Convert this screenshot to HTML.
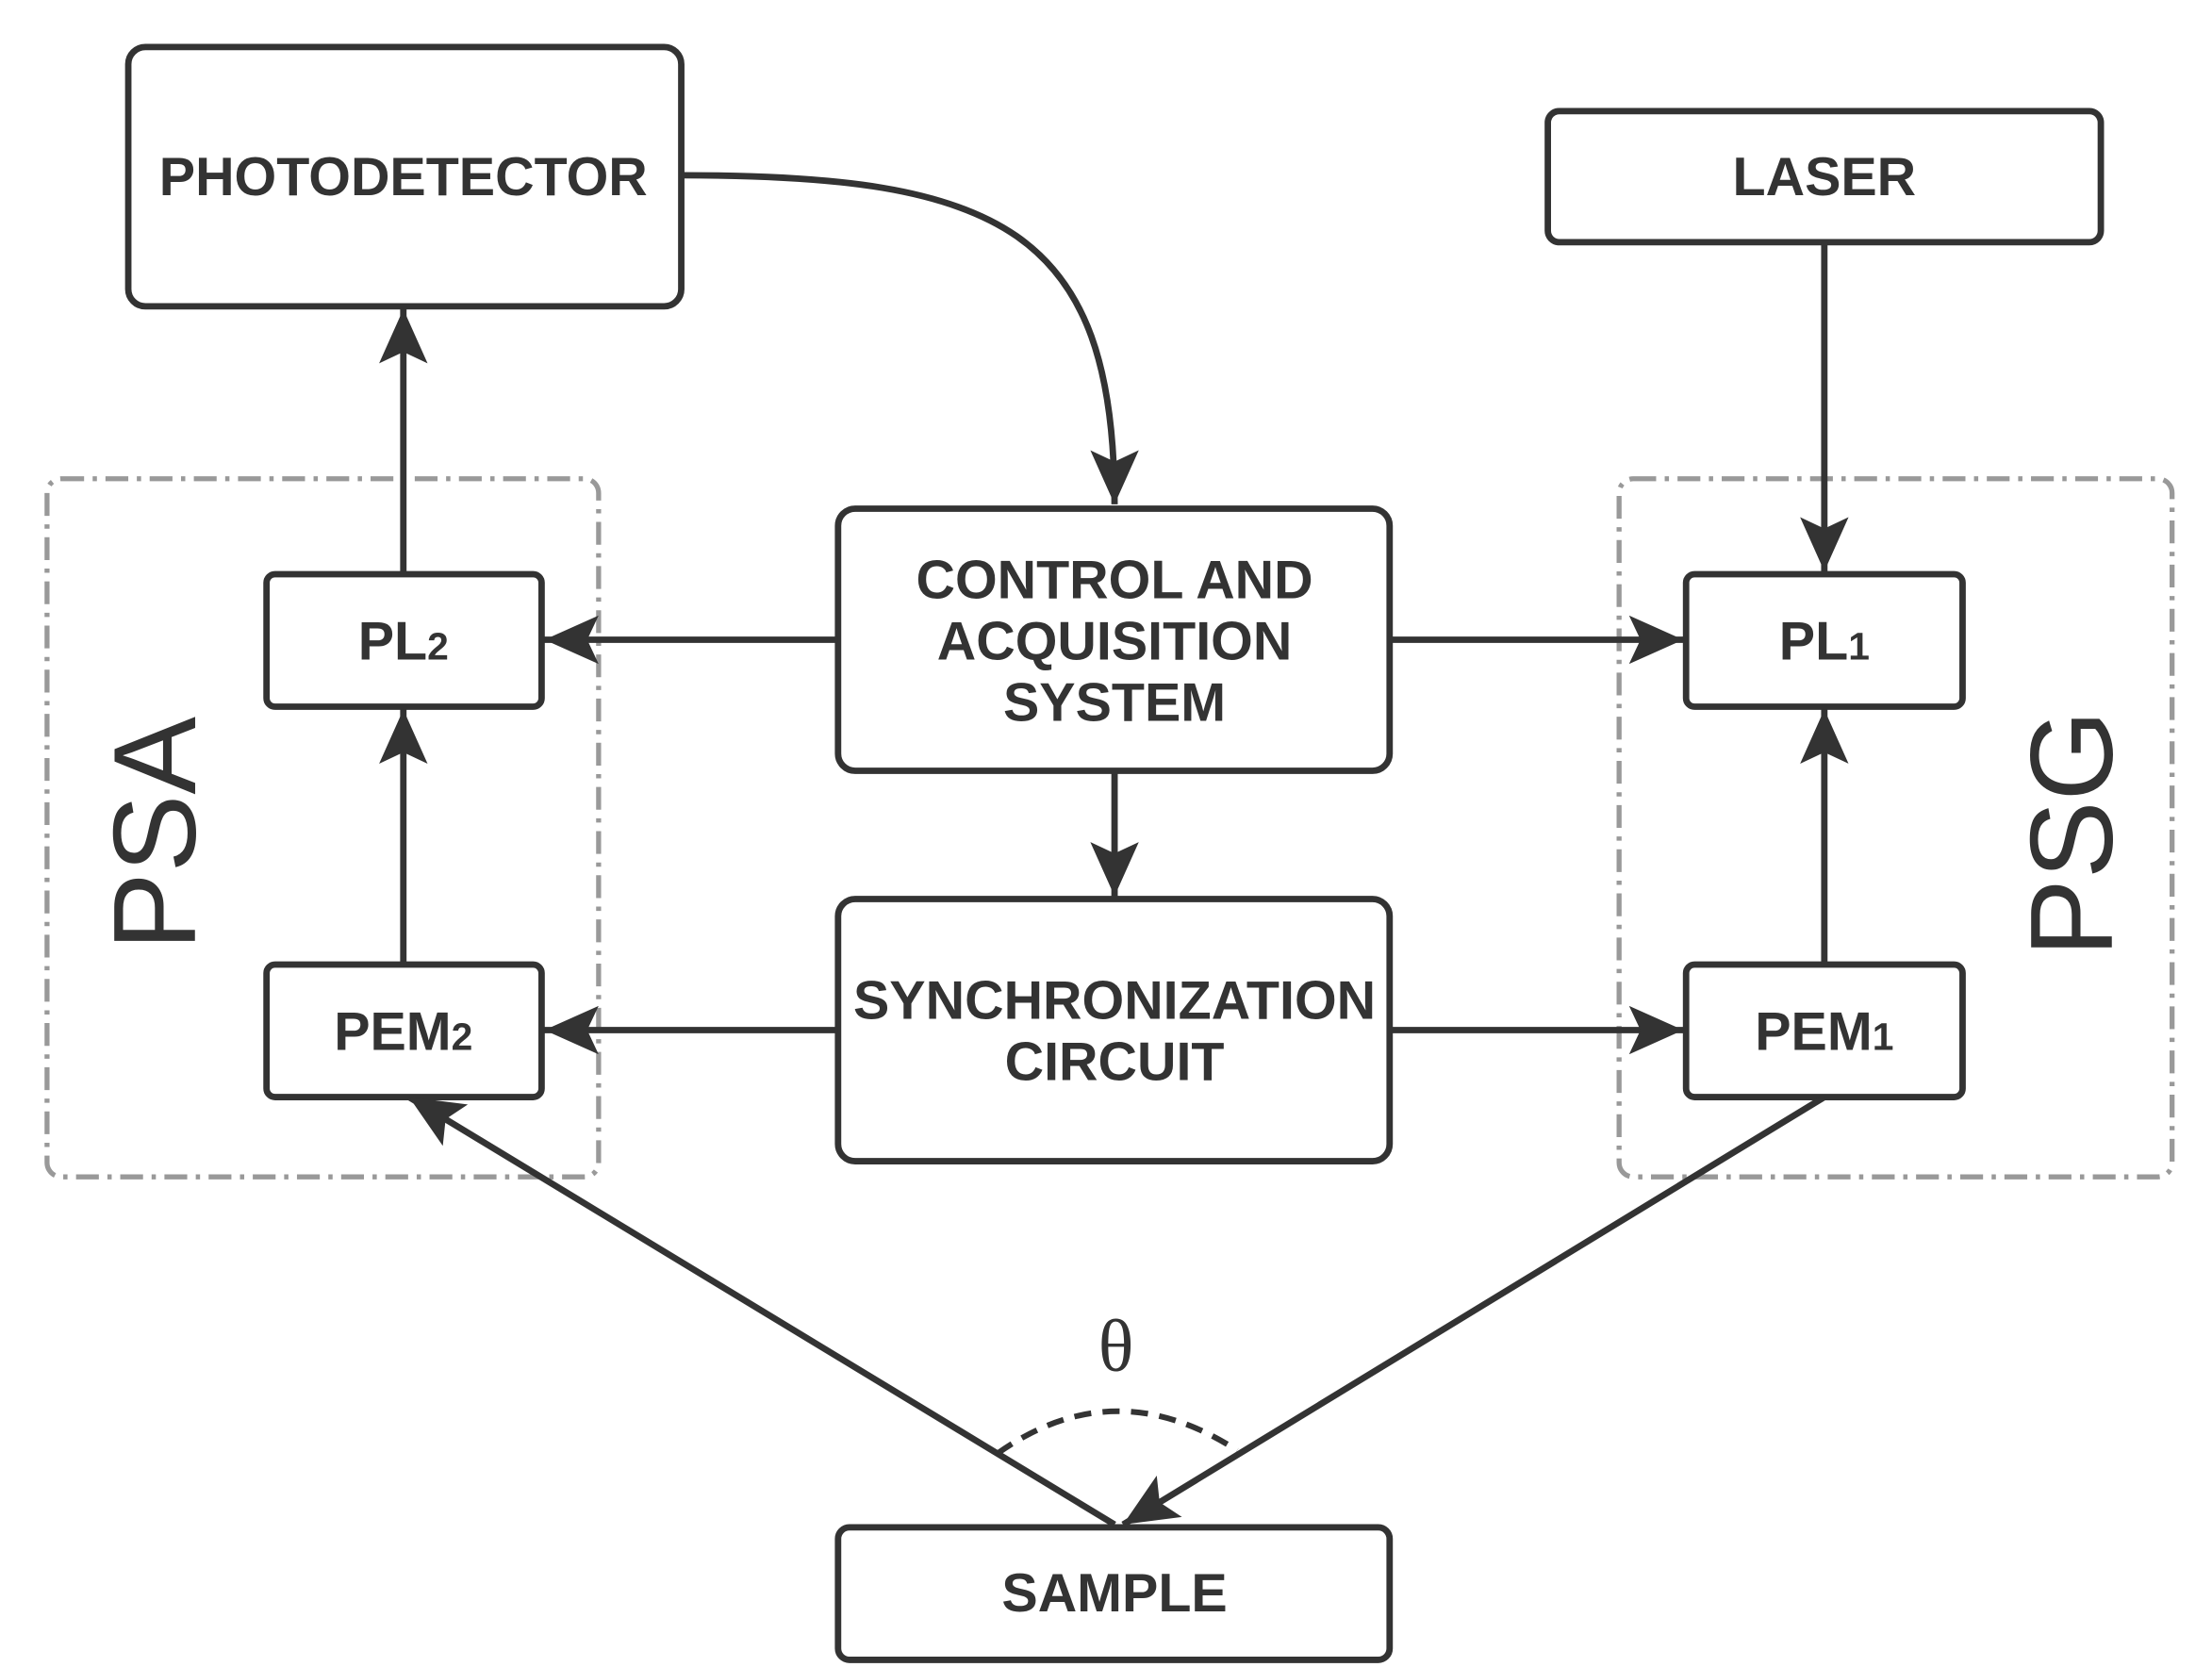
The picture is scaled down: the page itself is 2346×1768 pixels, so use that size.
<!DOCTYPE html>
<html><head><meta charset="utf-8"><style>html,body{margin:0;padding:0;background:#fff}svg{display:block}</style></head>
<body>
<svg width="2346" height="1768" viewBox="0 0 1552 1170" preserveAspectRatio="none" xmlns="http://www.w3.org/2000/svg">
<defs>
<marker id="a" markerUnits="userSpaceOnUse" markerWidth="40" markerHeight="34" refX="38" refY="17" orient="auto">
<path d="M0,0 L38,17 L0,34 L8,17 Z" fill="#333"/>
</marker>
</defs>
<g fill="none" stroke="#999" stroke-width="3.5" stroke-dasharray="16,6,3,6">
<rect x="33" y="336" width="387" height="490" rx="10"/>
<rect x="1136" y="336" width="388" height="490" rx="10"/>
</g>
<g fill="#fff" stroke="#333" stroke-width="4.5">
<rect x="90" y="33" width="388" height="182" rx="12"/>
<rect x="1086" y="78" width="388" height="92" rx="8"/>
<rect x="187" y="403" width="193" height="93" rx="6"/>
<rect x="187" y="677" width="193" height="93" rx="6"/>
<rect x="1183" y="403" width="194" height="93" rx="6"/>
<rect x="1183" y="677" width="194" height="93" rx="6"/>
<rect x="588" y="357" width="387" height="184" rx="12"/>
<rect x="588" y="631" width="387" height="184" rx="12"/>
<rect x="588" y="1072" width="387" height="93" rx="8"/>
</g>
<g fill="none" stroke="#333" stroke-width="4.5" marker-end="url(#a)">
<path d="M478,123 C700,123 782,160 782,354"/>
<path d="M283,403 L283,217"/>
<path d="M283,677 L283,498"/>
<path d="M588,449 L382,449"/>
<path d="M975,449 L1181,449"/>
<path d="M782,541 L782,629"/>
<path d="M588,723 L382,723"/>
<path d="M975,723 L1181,723"/>
<path d="M1280,170 L1280,401"/>
<path d="M1280,677 L1280,498"/>
<path d="M1280,770 L788,1070"/>
<path d="M782,1070 L287,770"/>
</g>
<path d="M700,1020 Q782,962 868,1018" fill="none" stroke="#333" stroke-width="4" stroke-dasharray="12,8"/>
<g font-family="Liberation Sans, sans-serif" font-weight="bold" font-size="38" fill="#333" text-anchor="middle">
<text x="283" y="137">PHOTODETECTOR</text>
<text x="1280" y="137">LASER</text>
<text x="283" y="463">PL<tspan font-size="27">2</tspan></text>
<text x="283" y="737">PEM<tspan font-size="27">2</tspan></text>
<text x="1280" y="463">PL<tspan font-size="27">1</tspan></text>
<text x="1280" y="737">PEM<tspan font-size="27">1</tspan></text>
<text x="782" y="420">CONTROL AND</text>
<text x="782" y="463">ACQUISITION</text>
<text x="782" y="506">SYSTEM</text>
<text x="782" y="715">SYNCHRONIZATION</text>
<text x="782" y="758">CIRCUIT</text>
<text x="782" y="1131">SAMPLE</text>
</g>
<g font-family="Liberation Sans, sans-serif" font-size="82" fill="#333" text-anchor="middle">
<text transform="translate(137,585) rotate(-90)">PSA</text>
<text transform="translate(1482,585) rotate(-90)">PSG</text>
</g>
<text x="783" y="962" font-family="Liberation Serif, serif" font-size="52" fill="#333" text-anchor="middle">θ</text>
</svg>
</body></html>
